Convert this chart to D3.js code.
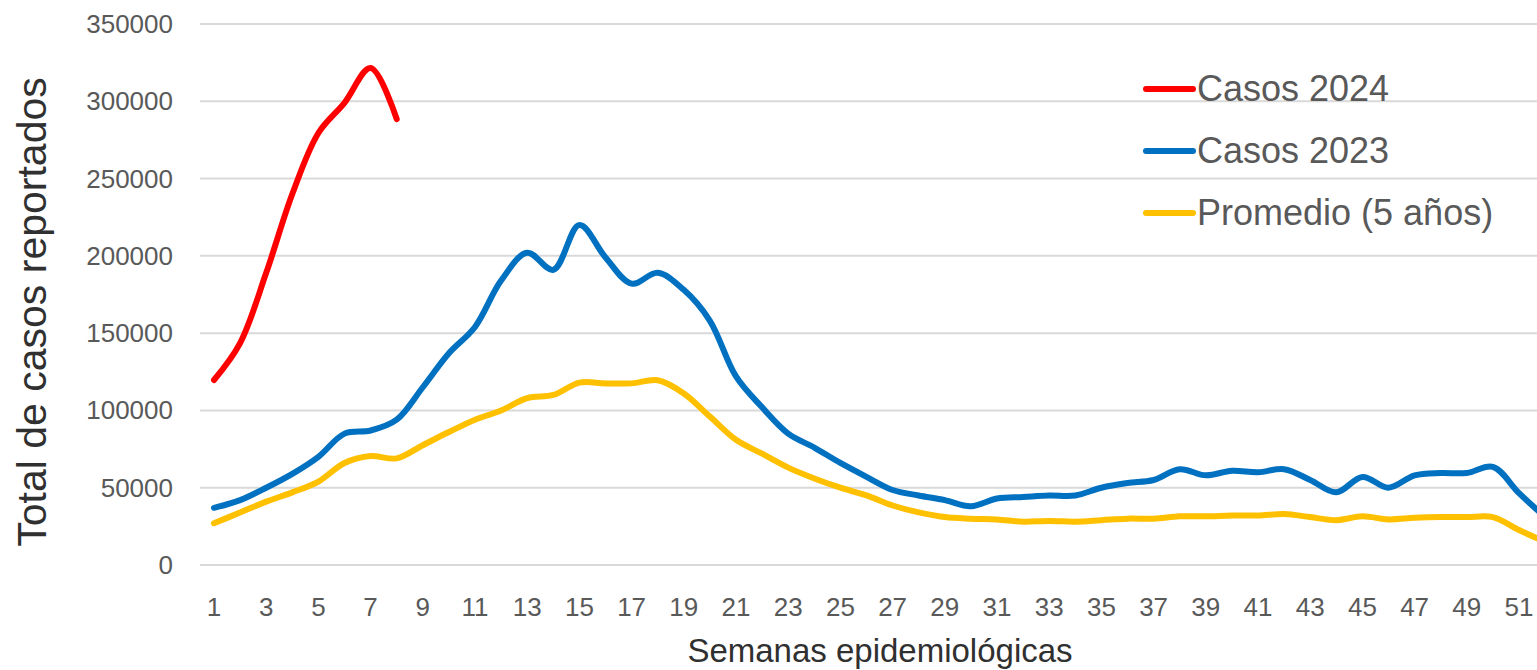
<!DOCTYPE html>
<html>
<head>
<meta charset="utf-8">
<script src="https://cdn.jsdelivr.net/npm/d3@7"></script>
<style>
  html, body { margin: 0; padding: 0; background: #fff; }
  svg { display: block; overflow: hidden; }
</style>
</head>
<body>
<div id="chart"></div>
<script>
const weeks = d3.range(1, 53);

const casos2024 = [119700, 143600, 189000, 240000, 279500, 299000, 321500, 288500];

const casos2023 = [
  37000, 42000, 50000, 59000, 70000, 85000, 87000, 94000, 115000, 137000,
  154000, 184000, 202000, 191000, 220000, 199000, 182000, 189000, 178000, 158000,
  122000, 102000, 85000, 76000, 66000, 57000, 48500, 45000, 42000, 38000,
  43000, 44000, 45000, 45000, 50000, 53000, 55000, 62000, 58000, 61000,
  60000, 62000, 55000, 47000, 57000, 50000, 58000, 59500, 59500, 63500,
  46500, 31000
];

const promedio = [
  27000, 34000, 41000, 47000, 54000, 66000, 70500, 69000, 77500, 86000,
  94000, 100000, 108000, 110000, 118000, 117500, 117500, 119500, 111000, 96000,
  81000, 72000, 63000, 56000, 50000, 45000, 38500, 34000, 31000, 30000,
  29500, 28000, 28500, 28000, 29000, 30000, 30000, 31500, 31500, 32000,
  32000, 33000, 31000, 29000, 31500, 29500, 30500, 31000, 31000, 31000,
  22600, 15000
];

const series = [
  { name: "Casos 2024", values: casos2024, color: "#FF0000" },
  { name: "Casos 2023", values: casos2023, color: "#0070C0" },
  { name: "Promedio (5 años)", values: promedio, color: "#FFC000" }
];

const yTicks = [0, 50000, 100000, 150000, 200000, 250000, 300000, 350000];
const xTickLabels = weeks.filter(w => w % 2 === 1);

const width = 1537, height = 670;

const svg = d3.select("#chart")
  .append("svg")
  .attr("width", width)
  .attr("height", height)
  .style("font-family", "'Liberation Sans', Arial, sans-serif");

// week 52 falls just past the right edge, like the original crop
const xScale = d3.scaleLinear()
  .domain([1, 52])
  .range([214, 214 + 51 * 26.1]);

const yScale = d3.scaleLinear()
  .domain([0, 350000])
  .range([565, 24]);

// gridlines
svg.append("g")
  .selectAll("line")
  .data(yTicks)
  .enter()
  .append("line")
  .attr("x1", 200)
  .attr("x2", width + 40)
  .attr("y1", d => yScale(d))
  .attr("y2", d => yScale(d))
  .attr("stroke", "#D9D9D9")
  .attr("stroke-width", 2);

// y tick labels
svg.append("g")
  .selectAll("text")
  .data(yTicks)
  .enter()
  .append("text")
  .attr("x", 173)
  .attr("y", d => yScale(d) + 9)
  .attr("text-anchor", "end")
  .attr("fill", "#595959")
  .style("font-size", "26px")
  .text(d => d);

// x tick labels
svg.append("g")
  .selectAll("text")
  .data(xTickLabels)
  .enter()
  .append("text")
  .attr("x", d => xScale(d))
  .attr("y", 616)
  .attr("text-anchor", "middle")
  .attr("fill", "#595959")
  .style("font-size", "26px")
  .text(d => d);

// axis titles
svg.append("text")
  .attr("transform", "translate(46, 312) rotate(-90)")
  .attr("text-anchor", "middle")
  .attr("fill", "#303030")
  .style("font-size", "41px")
  .text("Total de casos reportados");

svg.append("text")
  .attr("x", 880)
  .attr("y", 662)
  .attr("text-anchor", "middle")
  .attr("fill", "#303030")
  .style("font-size", "33px")
  .text("Semanas epidemiológicas");

// lines
const line = d3.line()
  .x((d, i) => xScale(weeks[i]))
  .y(d => yScale(d))
  .curve(d3.curveCatmullRom.alpha(0.5));

svg.append("g")
  .selectAll("path")
  .data(series.slice().reverse())
  .enter()
  .append("path")
  .attr("d", d => line(d.values))
  .attr("fill", "none")
  .attr("stroke", d => d.color)
  .attr("stroke-width", 6)
  .attr("stroke-linecap", "round")
  .attr("stroke-linejoin", "round");

// legend
const legendY = [89, 151, 213];

const legendItem = svg.append("g")
  .selectAll(".legend-item")
  .data(series)
  .enter()
  .append("g")
  .attr("class", "legend-item")
  .attr("transform", (d, i) => `translate(0, ${legendY[i]})`);

legendItem.append("line")
  .attr("x1", 1146)
  .attr("x2", 1193)
  .attr("stroke", d => d.color)
  .attr("stroke-width", 6)
  .attr("stroke-linecap", "round");

legendItem.append("text")
  .attr("x", 1197)
  .attr("y", 12)
  .attr("fill", "#595959")
  .style("font-size", "36px")
  .text(d => d.name);
</script>
</body>
</html>
